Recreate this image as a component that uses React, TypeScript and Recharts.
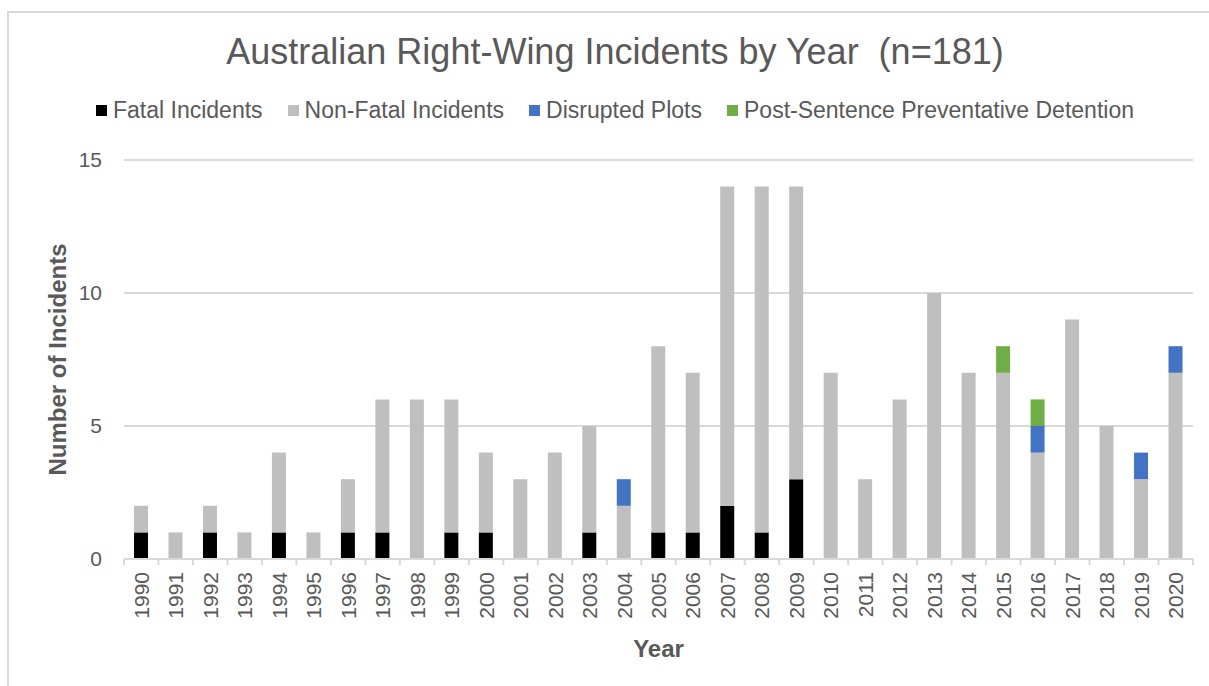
import React from 'react';
import { BarChart, Bar, XAxis, YAxis, CartesianGrid, Label } from 'recharts';

const years = ['1990','1991','1992','1993','1994','1995','1996','1997','1998','1999','2000','2001','2002','2003','2004','2005','2006','2007','2008','2009','2010','2011','2012','2013','2014','2015','2016','2017','2018','2019','2020'];
const fatal =     [1,0,1,0,1,0,1,1,0,1,1,0,0,1,0,1,1,2,1,3,0,0,0,0,0,0,0,0,0,0,0];
const nonFatal =  [1,1,1,1,3,1,2,5,6,5,3,3,4,4,2,7,6,12,13,11,7,3,6,10,7,7,4,9,5,3,7];
const disrupted = [0,0,0,0,0,0,0,0,0,0,0,0,0,0,1,0,0,0,0,0,0,0,0,0,0,0,1,0,0,1,1];
const pspd =      [0,0,0,0,0,0,0,0,0,0,0,0,0,0,0,0,0,0,0,0,0,0,0,0,0,1,1,0,0,0,0];
const yTicks = [0, 5, 10, 15];

const seriesNames = ['Fatal Incidents', 'Non-Fatal Incidents', 'Disrupted Plots', 'Post-Sentence Preventative Detention'];
const seriesKeys = ['fatal', 'nonFatal', 'disrupted', 'pspd'];
const seriesColors = ['#000000', '#bfbfbf', '#4472c4', '#70ad47'];

const data = years.map((y, i) => ({
  year: y,
  fatal: fatal[i],
  nonFatal: nonFatal[i],
  disrupted: disrupted[i],
  pspd: pspd[i],
}));

const FONT = '"Liberation Sans", Arial, sans-serif';
const TEXT = '#595959';
const GRID = '#d9d9d9';

const XTick = (props: any) => {
  const { x, y, payload, index, visibleTicksCount } = props;
  const half = payload && typeof payload.offset === 'number' && payload.offset > 0 ? payload.offset : 17.24;
  const ty = y + 13;
  const isLast = index === (visibleTicksCount ?? years.length) - 1;
  return (
    <g>
      <line x1={x - half} y1={y} x2={x - half} y2={y + 6} stroke={GRID} strokeWidth={2} />
      {isLast && <line x1={x + half} y1={y} x2={x + half} y2={y + 6} stroke={GRID} strokeWidth={2} />}
      <text
        x={x}
        y={ty}
        transform={`rotate(-90 ${x} ${ty})`}
        textAnchor="end"
        dominantBaseline="central"
        fontSize={21}
        fill={TEXT}
        fontFamily={FONT}
      >
        {payload.value}
      </text>
    </g>
  );
};

const YLabel = (props: any) => {
  const vb = props.viewBox || {};
  const cx = (vb.x ?? 0) + 57;
  const cy = (vb.y ?? 0) + (vb.height ?? 0) / 2;
  return (
    <text
      x={cx}
      y={cy}
      transform={`rotate(-90 ${cx} ${cy})`}
      textAnchor="middle"
      dominantBaseline="central"
      fontSize={24}
      fontWeight="bold"
      fill={TEXT}
      fontFamily={FONT}
    >
      Number of Incidents
    </text>
  );
};

const XLabel = (props: any) => {
  const vb = props.viewBox || {};
  const cx = (vb.x ?? 0) + (vb.width ?? 0) / 2;
  const by = (vb.y ?? 0) + 98;
  return (
    <text x={cx} y={by} textAnchor="middle" fontSize={24} fontWeight="bold" fill={TEXT} fontFamily={FONT}>
      Year
    </text>
  );
};

export default function App() {
  return (
    <div style={{ position: 'absolute', left: 0, top: 0, width: 1209, height: 686, overflow: 'hidden', background: '#fff', fontFamily: FONT }}>
      <div style={{ position: 'absolute', left: 7, top: 11, width: 1240, height: 700, border: `2px solid ${GRID}`, boxSizing: 'border-box' }} />
      <div style={{ position: 'absolute', left: 0, top: 34, width: 1230, textAlign: 'center', fontSize: 36, lineHeight: '36px', color: TEXT, whiteSpace: 'pre' }}>
        {'Australian Right-Wing Incidents by Year  (n=181)'}
      </div>
      <div style={{ position: 'absolute', left: 0, top: 99, width: 1230, display: 'flex', justifyContent: 'center', fontSize: 23, lineHeight: '23px', color: TEXT }}>
        {seriesNames.map((n, i) => (
          <div key={n} style={{ display: 'flex', alignItems: 'center', marginLeft: i === 0 ? 0 : 25 }}>
            <span style={{ display: 'inline-block', width: 11, height: 11, background: seriesColors[i], marginRight: 6 }} />
            <span>{n}</span>
          </div>
        ))}
      </div>
      <div style={{ position: 'absolute', left: 0, top: 0 }}>
        <BarChart width={1209} height={686} data={data} margin={{ top: 160, right: 16, bottom: 17, left: 0 }} barSize={14}>
          <CartesianGrid vertical={false} stroke={GRID} strokeWidth={2} />
          <XAxis
            dataKey="year"
            height={110}
            tickSize={0}
            tickMargin={0}
            tickLine={false}
            axisLine={{ stroke: GRID, strokeWidth: 2 }}
            tick={<XTick />}
            interval={0}
          >
            <Label content={<XLabel />} />
          </XAxis>
          <YAxis
            width={124}
            domain={[0, 15]}
            ticks={yTicks}
            tickSize={0}
            tickMargin={22}
            axisLine={false}
            tickLine={false}
            tick={{ fill: TEXT, fontSize: 21, fontFamily: FONT }}
          >
            <Label content={<YLabel />} />
          </YAxis>
          {seriesKeys.map((k, i) => (
            <Bar key={k} dataKey={k} name={seriesNames[i]} stackId="a" fill={seriesColors[i]} isAnimationActive={false} />
          ))}
        </BarChart>
      </div>
    </div>
  );
}
